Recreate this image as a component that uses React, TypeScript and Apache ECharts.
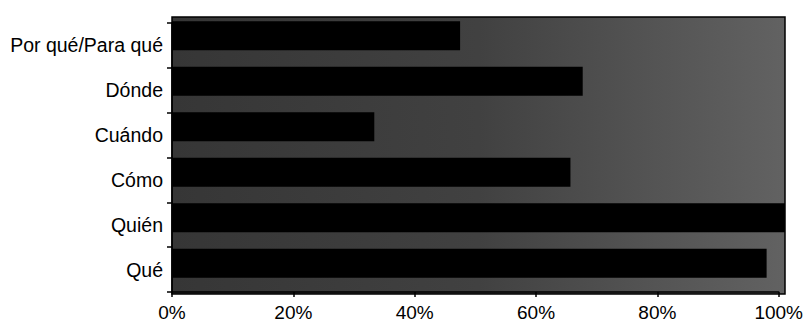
import React, { useEffect, useRef } from "react";
import * as echarts from "echarts";

const categories = ["Por qué/Para qué", "Dónde", "Cuándo", "Cómo", "Quién", "Qué"];
const values = [47, 67, 33, 65, 100, 97];
const xTicks = [0, 20, 40, 60, 80, 100];

const FONT = "'Liberation Sans', Arial, sans-serif";

export default function App() {
  const ref = useRef<HTMLDivElement>(null);
  useEffect(() => {
    if (!ref.current) return;
    const chart = echarts.init(ref.current, null, { renderer: "svg" });
    const left = 172;
    const right = 21;
    chart.setOption({
      animation: false,
      backgroundColor: "#ffffff",
      textStyle: { fontFamily: FONT },
      graphic: [
        {
          type: "rect",
          z: -10,
          silent: true,
          shape: { x: 172, y: 17, width: 613, height: 277 },
          style: {
            fill: {
              type: "linear",
              x: 0, y: 0, x2: 1, y2: 0,
              colorStops: [
                { offset: 0, color: "#363636" },
                { offset: 0.5, color: "#414141" },
                { offset: 1, color: "#626262" },
              ],
            },
            stroke: "#000",
            lineWidth: 1.5,
          },
        },
      ],
      grid: [
        { left, right, top: 23, bottom: 27, containLabel: false },
        { left, right, top: 13, bottom: 36, containLabel: false },
      ],
      xAxis: [
        {
          type: "value",
          gridIndex: 0,
          min: 0,
          max: 100,
          interval: 20,
          axisLine: { show: true, lineStyle: { color: "#000", width: 1.5 } },
          axisTick: { show: true, length: 5, lineStyle: { color: "#000", width: 1.5 } },
          splitLine: { show: false },
          axisLabel: {
            color: "#000",
            fontSize: 19,
            fontFamily: FONT,
            margin: 11,
            formatter: (v: number) => (xTicks.includes(v) ? v + "%" : ""),
          },
        },
        {
          type: "value",
          gridIndex: 1,
          min: 0,
          max: 100,
          show: false,
        },
      ],
      yAxis: [
        {
          type: "category",
          gridIndex: 0,
          inverse: true,
          data: categories,
          axisLine: { show: true, lineStyle: { color: "#000", width: 1.5 } },
          axisTick: { show: true, length: 5, lineStyle: { color: "#000", width: 1.5 } },
          axisLabel: {
            color: "#000",
            fontSize: 19.5,
            fontFamily: FONT,
            margin: 9,
          },
        },
        {
          type: "category",
          gridIndex: 1,
          inverse: true,
          data: categories,
          show: false,
        },
      ],
      series: [
        {
          type: "bar",
          xAxisIndex: 1,
          yAxisIndex: 1,
          data: values,
          barWidth: 29,
          itemStyle: { color: "#000" },
        },
      ],
    });
    return () => chart.dispose();
  }, []);
  return (
    <div
      ref={ref}
      style={{ position: "fixed", left: 0, top: 0, width: 806, height: 322 }}
    />
  );
}
